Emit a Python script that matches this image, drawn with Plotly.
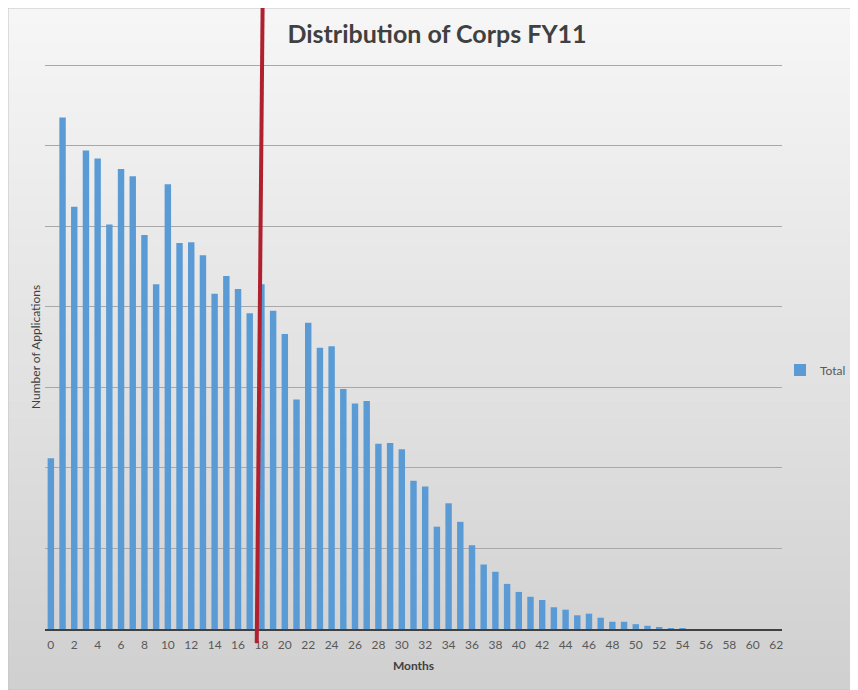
import plotly.graph_objects as go

# ---- data ----
months = list(range(0, 63))
total = [212, 635, 524, 594, 584, 502, 571, 562, 489, 428,
         552, 479, 480, 464, 416, 438, 422, 392, 428, 395,
         366, 285, 380, 349, 351, 298, 280, 283, 230, 231,
         223, 184, 177, 127, 156, 133, 104, 80, 71, 56,
         46, 40, 36, 27, 24, 17, 19, 14, 9, 9,
         6, 4, 2, 1, 0.5, 0, 0, 0, 0, 0,
         0, 0, 0]
tick_vals = list(range(0, 63, 2))
tick_text = [str(v) for v in tick_vals]
cutoff_top = 18.1      # red marker line, month position at top of picture
cutoff_bottom = 17.6   # red marker line, month position at bottom of picture

# ---- layout geometry (figure is placed at 8px page offset) ----
OFF = 8
W, H = 858 - OFF, 690 - OFF
ML = 45 - OFF
MT = 63 - OFF
plot_right = 782 - OFF
plot_bottom = 629 - OFF
MR = W - plot_right
MB = H - plot_bottom
XMIN, XMAX = -0.5, 62.5
YMIN, YMAX = 0, 702.5
pw = W - ML - MR
ph = H - MT - MB

def px_x(x):  # page pixel -> paper x
    return (x - OFF - ML) / pw

def px_y(y):  # page pixel (from top) -> paper y
    return (plot_bottom - (y - OFF)) / ph

def data_x_paper(v):
    return (v - XMIN) / (XMAX - XMIN)

fig = go.Figure()
fig.add_trace(go.Bar(x=months, y=total, name="Total",
                     marker=dict(color="#5b9bd5", line=dict(width=0))))

shapes = []
# background gradient bands
n = 40
top_c = (246, 246, 246)
bot_c = (208, 208, 208)
y0p, y1p = OFF, 690
for i in range(n):
    t = i / (n - 1)
    c = tuple(int(round(top_c[k] + (bot_c[k] - top_c[k]) * t)) for k in range(3))
    ya = y0p + (y1p - y0p) * i / n
    yb = min(y0p + (y1p - y0p) * (i + 1) / n + 0.6, y1p)
    shapes.append(dict(type="rect", xref="paper", yref="paper", layer="below",
                       x0=px_x(OFF), x1=px_x(858), y0=px_y(ya), y1=px_y(yb),
                       fillcolor="rgb(%d,%d,%d)" % c, line=dict(width=0)))
# thin frame
shapes.append(dict(type="rect", xref="paper", yref="paper", layer="below",
                   x0=px_x(OFF), x1=px_x(858), y0=px_y(OFF), y1=px_y(690),
                   fillcolor="rgba(0,0,0,0)", line=dict(color="#c4c4c4", width=1)))
# red marker line
shapes.append(dict(type="line", xref="paper", yref="paper", layer="above",
                   x0=data_x_paper(cutoff_top), x1=data_x_paper(cutoff_bottom),
                   y0=px_y(OFF), y1=px_y(643),
                   line=dict(color="#b0202e", width=4)))

FONT = "Lato, 'Open Sans', sans-serif"
fig.update_layout(
    width=W, height=H,
    margin=dict(l=ML, r=MR, t=MT, b=MB, autoexpand=False),
    paper_bgcolor="white",
    plot_bgcolor="rgba(0,0,0,0)",
    font=dict(family=FONT, color="#595959", size=12),
    title=dict(text="<b>Distribution of Corps FY11</b>", x=(437 - OFF) / W, xanchor="center",
               y=1 - (34 - OFF) / H, yanchor="middle",
               font=dict(size=25, color="#404040", family=FONT)),
    bargap=0.45,
    showlegend=True,
    legend=dict(x=px_x(780), y=px_y(370), xanchor="left", yanchor="middle",
                bgcolor="rgba(0,0,0,0)", font=dict(size=12, color="#595959"),
                itemwidth=30),
    shapes=shapes,
    xaxis=dict(range=[XMIN, XMAX], tickmode="array", tickvals=tick_vals, ticktext=tick_text,
               showgrid=False, zeroline=False, showline=True, linecolor="#404040", linewidth=2,
               ticks="", ticklabelstandoff=4, tickfont=dict(size=12, color="#595959"),
               title=dict(text="<b>Months</b>", font=dict(size=12, color="#404040"), standoff=10)),
    yaxis=dict(range=[YMIN, YMAX], dtick=100, showticklabels=False, showgrid=True,
               gridcolor="#a8a8a8", gridwidth=1, zeroline=False, showline=False, ticks=""),
    annotations=[dict(text="Number of Applications", xref="paper", yref="paper",
                      x=px_x(35), y=px_y(347), textangle=-90, showarrow=False,
                      xanchor="center", yanchor="middle",
                      font=dict(size=12, color="#404040"))],
)

fig.write_html("out.html")
